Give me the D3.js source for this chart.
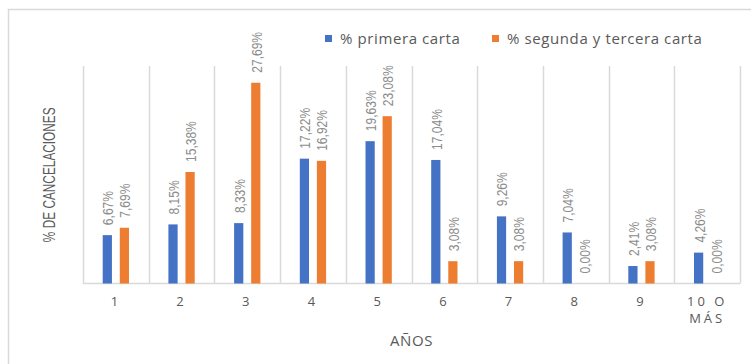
<!DOCTYPE html>
<html>
<head>
<meta charset="utf-8">
<script src="https://cdn.jsdelivr.net/npm/d3@7"></script>
<style>
  body { margin: 0; background: #fff; }
  svg { display: block; }
</style>
</head>
<body>
<script>
// categories (years) and the two series
var years = ['1', '2', '3', '4', '5', '6', '7', '8', '9', '10 O MÁS'];
var primera = [6.67, 8.15, 8.33, 17.22, 19.63, 17.04, 9.26, 7.04, 2.41, 4.26];
var segunda = [7.69, 15.38, 27.69, 16.92, 23.08, 3.08, 3.08, 0.00, 3.08, 0.00];
var seriesNames = ['% primera carta', '% segunda y tercera carta'];
var colors = ['#4472C4', '#ED7D31'];

var width = 751, height = 364;
// plot area edges (note: "top" is reserved on window, so use plotTop)
var plotLeft = 83, plotRight = 740, plotTop = 66, plotBottom = 283.5;

var svg = d3.select('body').append('svg')
  .attr('width', width)
  .attr('height', height);

// outer frame (only top and left edges show in the crop)
svg.append('path')
  .attr('d', 'M8.5,364 V9.5 H751')
  .attr('fill', 'none')
  .attr('stroke', '#d9d9d9')
  .attr('stroke-width', 1.5);

var x = d3.scaleBand().domain(years).range([plotLeft, plotRight]);
var x1 = d3.scaleBand().domain([0, 1])
  .range([x.bandwidth() * 0.3, x.bandwidth() * 0.7])
  .paddingInner(0.46);
var y = d3.scaleLinear().domain([0, 30]).range([plotBottom, plotTop]);

// vertical separators between categories
var bounds = years.map(function(d) { return x(d); }).concat([plotRight]);
svg.append('g').selectAll('line')
  .data(bounds).enter().append('line')
  .attr('x1', function(d) { return Math.round(d) + 0.5; })
  .attr('x2', function(d) { return Math.round(d) + 0.5; })
  .attr('y1', plotTop)
  .attr('y2', plotBottom)
  .attr('stroke', '#d9d9d9')
  .attr('stroke-width', 1.5);

// baseline
svg.append('line')
  .attr('x1', plotLeft).attr('x2', plotRight)
  .attr('y1', plotBottom).attr('y2', plotBottom)
  .attr('stroke', '#d9d9d9')
  .attr('stroke-width', 1.5);

var rows = [];
years.forEach(function(yr, i) {
  rows.push({ cat: yr, s: 0, v: primera[i] });
  rows.push({ cat: yr, s: 1, v: segunda[i] });
});

svg.append('g').selectAll('rect')
  .data(rows).enter().append('rect')
  .attr('x', function(d) { return x(d.cat) + x1(d.s); })
  .attr('width', x1.bandwidth())
  .attr('y', function(d) { return y(d.v); })
  .attr('height', function(d) { return y(0) - y(d.v); })
  .attr('fill', function(d) { return colors[d.s]; });

// rotated value labels, squeezed along the text to look condensed
svg.append('g').selectAll('text')
  .data(rows).enter().append('text')
  .attr('transform', function(d) {
    var cx = x(d.cat) + x1(d.s) + x1.bandwidth() / 2 + 1;
    return 'translate(' + cx + ',' + (y(d.v) - 10) + ') rotate(-90) scale(0.86,1)';
  })
  .attr('dy', '0.35em')
  .attr('font-family', 'Liberation Sans, sans-serif')
  .attr('font-size', 14)
  .attr('fill', '#8c8c8c')
  .text(function(d) { return d.v.toFixed(2).replace('.', ',') + '%'; });

// x tick labels, letter-spaced, last one wrapped
var ticks = svg.append('g')
  .attr('font-family', 'Open Sans, sans-serif')
  .attr('font-size', 13)
  .attr('fill', '#595959')
  .attr('letter-spacing', 3)
  .attr('text-anchor', 'middle');
years.forEach(function(yr) {
  var cx = x(yr) + x.bandwidth() / 2;
  var lines = yr === '10 O MÁS' ? ['10 O', 'MÁS'] : [yr];
  lines.forEach(function(t, j) {
    ticks.append('text')
      .attr('x', cx)
      .attr('y', 306 + j * 17)
      .text(t);
  });
});

// axis titles
svg.append('text')
  .attr('x', (plotLeft + plotRight) / 2)
  .attr('y', 346)
  .attr('text-anchor', 'middle')
  .attr('font-family', 'Open Sans, sans-serif')
  .attr('font-size', 15)
  .attr('letter-spacing', 0.6)
  .attr('fill', '#595959')
  .text('AÑOS');

svg.append('text')
  .attr('transform', 'translate(49,' + (plotTop + plotBottom) / 2 + ') rotate(-90) scale(0.74,1)')
  .attr('dy', '0.35em')
  .attr('text-anchor', 'middle')
  .attr('font-family', 'Liberation Sans, sans-serif')
  .attr('font-size', 16)
  .attr('fill', '#595959')
  .text('% DE CANCELACIONES');

// legend
var legendX = [325, 492];
var legend = svg.append('g').selectAll('g')
  .data(seriesNames).enter().append('g')
  .attr('transform', function(d, i) { return 'translate(' + legendX[i] + ',35)'; });
legend.append('rect')
  .attr('width', 7).attr('height', 7)
  .attr('fill', function(d, i) { return colors[i]; });
legend.append('text')
  .attr('x', 15)
  .attr('y', 3.5)
  .attr('dy', '0.35em')
  .attr('font-family', 'Open Sans, sans-serif')
  .attr('font-size', 15)
  .attr('letter-spacing', 0.6)
  .attr('fill', '#595959')
  .text(function(d) { return d; });
</script>
</body>
</html>
